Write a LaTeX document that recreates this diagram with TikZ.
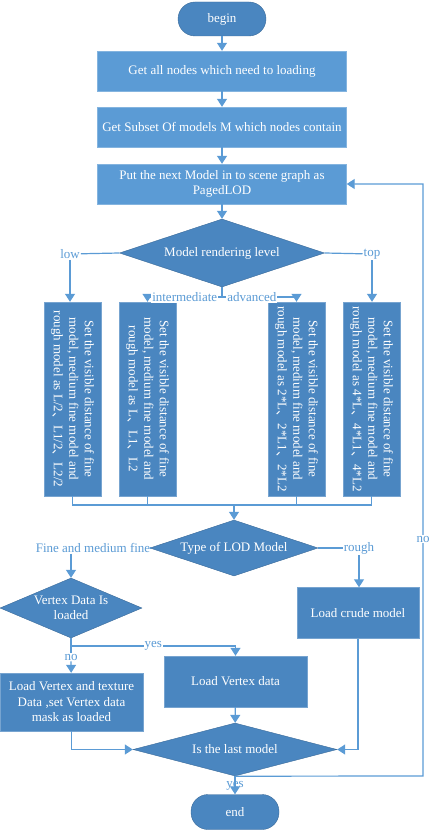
\documentclass[tikz,border=0pt]{standalone}
\usepackage{fontspec}
\setmainfont{Liberation Serif}
\newfontfamily\cjk{Noto Sans CJK SC}
\usetikzlibrary{shapes.geometric,arrows.meta}
\definecolor{lightfill}{HTML}{5B9BD5}
\definecolor{darkfill}{HTML}{4A86C0}
\definecolor{edgeblue}{HTML}{5B9BD5}
\newcommand{\dun}{{\cjk 、}}
\newcommand{\vtext}[3]{\rotatebox{-90}{\begin{tabular}{@{}c@{}}#1\\#2\\#3\end{tabular}}}

\begin{document}
\begin{tikzpicture}
  [ x=1pt, y=-1pt,
    every node/.style={font=\fontsize{13}{15.5}\selectfont},
    term/.style={rectangle, rounded corners=17pt, draw=darkfill!80!black, fill=darkfill, text=white, minimum width=88pt, minimum height=34pt},
    box1/.style={rectangle, draw=lightfill!75!white, fill=lightfill, text=white, align=center, minimum width=249pt, minimum height=40pt, inner sep=2pt},
    box2/.style={rectangle, draw=darkfill!75!white, fill=darkfill, text=white, align=center, inner sep=2pt},
    vbox/.style={rectangle, draw=darkfill!75!white, fill=darkfill, text=white, minimum width=57pt, minimum height=194pt, inner sep=0pt},
    dia/.style={diamond, aspect=3, draw=darkfill!80!black, fill=darkfill, text=white, align=center, inner sep=0pt},
    lbl/.style={text=edgeblue, fill=white, inner sep=1pt},
    line1/.style={-, line width=1.2pt, edgeblue},
    arr1/.style={-{Triangle[width=10pt,length=8pt]}, line width=1.2pt, edgeblue}
  ]
  \useasboundingbox (0,0) rectangle (428,834);

  \node[term] (begin) at (222,19) {begin};
  \node[box1] (getall) at (222,71) {Get all nodes which need to loading};
  \node[box1] (subset) at (222,127) {Get Subset Of models M which nodes contain};
  \node[box1] (put) at (222,184) {Put the next Model in to scene graph as\\PagedLOD};
  \node[dia, minimum width=205pt, minimum height=68pt] (level) at (222,253) {Model rendering level};
  \node[lbl] (low) at (70,254) {low};
  \node[lbl] (top) at (372,254) {top};

  \node[vbox] (setA) at (72.5,399) {\vtext{Set the visible distance of fine}{model, medium fine model and}{rough model as L/2\dun L1/2\dun L2/2}};
  \node[vbox] (setB) at (147.5,399) {\vtext{Set the visible distance of fine}{model, medium fine model and}{rough model as L\dun L1\dun L2}};
  \node[vbox] (setC) at (296.5,399) {\vtext{Set the visible distance of fine}{model, medium fine model and}{rough model as 2*L\dun 2*L1\dun 2*L2}};
  \node[vbox] (setD) at (371.5,399) {\vtext{Set the visible distance of fine}{model, medium fine model and}{rough model as 4*L\dun 4*L1\dun 4*L2}};
  \coordinate (mid) at (222,297);
  \coordinate (join) at (234,505);

  \node[dia, minimum width=168pt, minimum height=56pt] (type) at (234,548) {Type of LOD Model};
  \node[lbl] (fine) at (93,548) {Fine and medium fine};
  \node[lbl] (rough) at (359,548) {rough};
  \node[dia, aspect=2.3, inner sep=-3pt, minimum width=142pt, minimum height=60pt] (vertex) at (71,608) {Vertex Data Is\\loaded};
  \node[box2, minimum width=122pt, minimum height=51pt] (crude) at (358,613) {Load crude model};
  \coordinate (split) at (71,646);
  \node[lbl] (no1) at (71,657) {no};
  \node[box2, minimum width=143pt, minimum height=51pt] (loadv) at (235.5,681.5) {Load Vertex data};
  \node[box2, minimum width=143pt, minimum height=58pt] (loadvt) at (71.5,702) {Load Vertex and texture\\Data ,set Vertex data\\mask as loaded};
  \node[dia, minimum width=204pt, minimum height=53pt] (last) at (235,749.5) {Is the last model};
  \coordinate (loop) at (423,776);
  \node[term, minimum height=35pt] (end) at (235,812) {end};

  \draw [arr1] (begin) -- (getall);
  \draw [arr1] (getall) -- (subset);
  \draw [arr1] (subset) -- (put);
  \draw [arr1] (put) -- (level);

  \draw [line1] (level.west) -- (low);
  \draw [line1] (level.east) -- (top);
  \draw [arr1] (low) -- (low |- setA.north);
  \draw [arr1] (top) -- (top |- setD.north);
  \draw [line1] (level.south) -- (mid);
  \draw [arr1] (mid) -| node[lbl, pos=0.25] {intermediate} (setB.north);
  \draw [arr1] (mid) -| node[lbl, pos=0.2] {advanced} (setC.north);

  \draw [line1] (setA.south) |- (join);
  \draw [line1] (setB.south) |- (join);
  \draw [line1] (setC.south) |- (join);
  \draw [line1] (setD.south) |- (join);
  \draw [arr1] (join) -- (type.north);

  \draw [line1] (type.west) -- (fine);
  \draw [line1] (type.east) -- (rough);
  \draw [arr1] (vertex.north |- fine.south) -- (vertex.north);
  \draw [arr1] (rough) -- (rough |- crude.north);

  \draw [line1] (vertex.south) -- (no1);
  \draw [arr1] (no1) -- (loadvt);
  \draw [arr1] (split) -| node[lbl, pos=0.25] {yes} (loadv.north);

  \draw [arr1] (loadv) -- (last);
  \draw [arr1] (loadvt.south) |- (last.west);
  \draw [arr1] (crude.south) |- (last.east);
  \draw [arr1] (last.south) -- node[lbl, fill=none, pos=0.55] {yes} (end.north);
  \draw [arr1] (last.south) -- (loop) |- node[lbl, pos=0.2] {no} (put.east);
\end{tikzpicture}
\end{document}
